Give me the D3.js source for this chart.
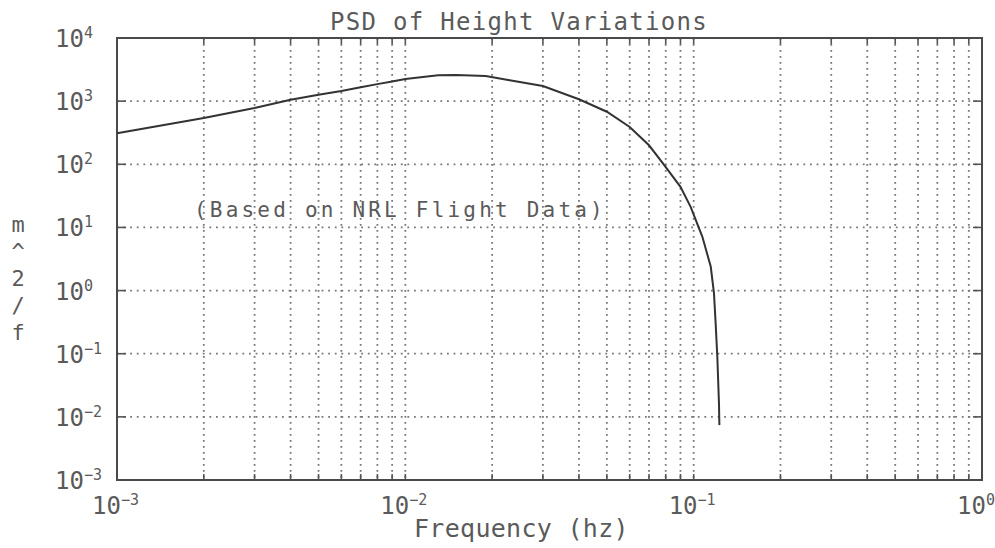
<!DOCTYPE html>
<html>
<head>
<meta charset="utf-8">
<script src="https://cdn.jsdelivr.net/npm/d3@7"></script>
<style>
  body { margin: 0; background: #fff; }
  svg { display: block; }
  text { font-family: "DejaVu Sans Mono", "Liberation Mono", monospace; fill: #5a5a5a; }
</style>
</head>
<body>
<svg id="chart" width="995" height="548"></svg>
<script>
// data
const freq = [0.001, 0.002, 0.003, 0.004, 0.005, 0.006, 0.007, 0.008, 0.009, 0.01,
  0.013, 0.015, 0.019, 0.023, 0.03, 0.04, 0.05, 0.06, 0.07, 0.078, 0.09, 0.0977,
  0.1072, 0.1146, 0.1176, 0.1192, 0.1208, 0.1224, 0.1228];
const psd = [310, 540, 780, 1050, 1260, 1450, 1660, 1860, 2050, 2240,
  2570, 2600, 2500, 2140, 1740, 1070, 680, 390, 200, 105, 44, 21,
  7.1, 2.4, 0.91, 0.30, 0.089, 0.0162, 0.0074];

const xDecades = [-3, -2, -1, 0];
const yDecades = [4, 3, 2, 1, 0, -1, -2, -3];
const titleText = 'PSD of Height Variations';
const xLabel = 'Frequency (hz)';
const yLabel = ['m', '^', '2', '/', 'f'];
const note = '(Based on NRL Flight Data)';

const svg = d3.select('#chart');

const padL = 117, padR = 982, padT = 38, padB = 480;

const x = d3.scaleLog().domain([1e-3, 1]).range([padL, padR]);
const y = d3.scaleLog().domain([1e-3, 1e4]).range([padB, padT]);

const data = freq.map((f, i) => ({ f: f, p: psd[i] }));

// grid
const grid = svg.append('g').attr('class', 'grid');
const xMinor = x.ticks();

grid.selectAll('.vgrid').data(xMinor.filter(d => d > 1e-3 && d < 1))
  .join('line')
  .attr('class', 'vgrid')
  .attr('x1', d => x(d)).attr('x2', d => x(d))
  .attr('y1', padT).attr('y2', padB)
  .style('stroke', '#777')
  .style('stroke-width', 1.8)
  .style('stroke-dasharray', '1.8,4.2');

grid.selectAll('.hgrid').data(yDecades.filter(e => e > -3 && e < 4))
  .join('line')
  .attr('class', 'hgrid')
  .attr('x1', padL).attr('x2', padR)
  .attr('y1', e => y(Math.pow(10, e))).attr('y2', e => y(Math.pow(10, e)))
  .style('stroke', '#777')
  .style('stroke-width', 1.8)
  .style('stroke-dasharray', '1.8,4.8');

// tick marks on frame
const ticks = svg.append('g').attr('class', 'ticks');
ticks.selectAll('.tb').data(xMinor)
  .join('line').attr('class', 'tb')
  .attr('x1', d => x(d)).attr('x2', d => x(d))
  .attr('y1', padB).attr('y2', padB - 6);
ticks.selectAll('.tt').data(xMinor)
  .join('line').attr('class', 'tt')
  .attr('x1', d => x(d)).attr('x2', d => x(d))
  .attr('y1', padT).attr('y2', padT + 6);
ticks.selectAll('.tl').data(yDecades)
  .join('line').attr('class', 'tl')
  .attr('x1', padL).attr('x2', padL + 9)
  .attr('y1', e => y(Math.pow(10, e))).attr('y2', e => y(Math.pow(10, e)));
ticks.selectAll('.tr').data(yDecades)
  .join('line').attr('class', 'tr')
  .attr('x1', padR).attr('x2', padR - 9)
  .attr('y1', e => y(Math.pow(10, e))).attr('y2', e => y(Math.pow(10, e)));
ticks.selectAll('line')
  .style('stroke', '#555')
  .style('stroke-width', 1.6);

// frame
svg.append('rect')
  .attr('x', padL).attr('y', padT)
  .attr('width', padR - padL).attr('height', padB - padT)
  .style('fill', 'none')
  .style('stroke', '#4a4a4a')
  .style('stroke-width', 2);

// curve
const line = d3.line()
  .x(d => x(d.f))
  .y(d => y(d.p));

svg.append('path')
  .datum(data)
  .attr('d', line)
  .style('fill', 'none')
  .style('stroke', '#333')
  .style('stroke-width', 2);

// labels with superscript exponent
function powLabel(sel, e) {
  sel.append('tspan').text('10');
  sel.append('tspan')
    .attr('dy', -9)
    .style('font-size', '15px')
    .text(e < 0 ? '\u2212' + (-e) : e);
}

const yLab = svg.append('g').attr('class', 'ylabels');
yDecades.forEach(e => {
  const t = yLab.append('text')
    .attr('x', 55)
    .attr('y', y(Math.pow(10, e)) + 9)
    .style('font-size', '24px');
  powLabel(t, e);
});

const xLab = svg.append('g').attr('class', 'xlabels');
xDecades.forEach(e => {
  const t = xLab.append('text')
    .attr('x', x(Math.pow(10, e)) - 25)
    .attr('y', 514)
    .style('font-size', '24px');
  powLabel(t, e);
});

// titles
svg.append('text')
  .attr('x', 330).attr('y', 30)
  .style('font-size', '24px')
  .style('letter-spacing', '1.3px')
  .text(titleText);

svg.append('text')
  .attr('x', 414).attr('y', 537)
  .style('font-size', '25px')
  .style('letter-spacing', '0.3px')
  .text(xLabel);

svg.append('g').selectAll('text').data(yLabel)
  .join('text')
  .attr('x', 18)
  .attr('y', (d, i) => 232 + i * 27)
  .attr('text-anchor', 'middle')
  .style('font-size', '22px')
  .text(d => d);

svg.append('text')
  .attr('x', 194).attr('y', 217)
  .style('font-size', '21px')
  .style('letter-spacing', '3.2px')
  .text(note);
</script>
</body>
</html>
